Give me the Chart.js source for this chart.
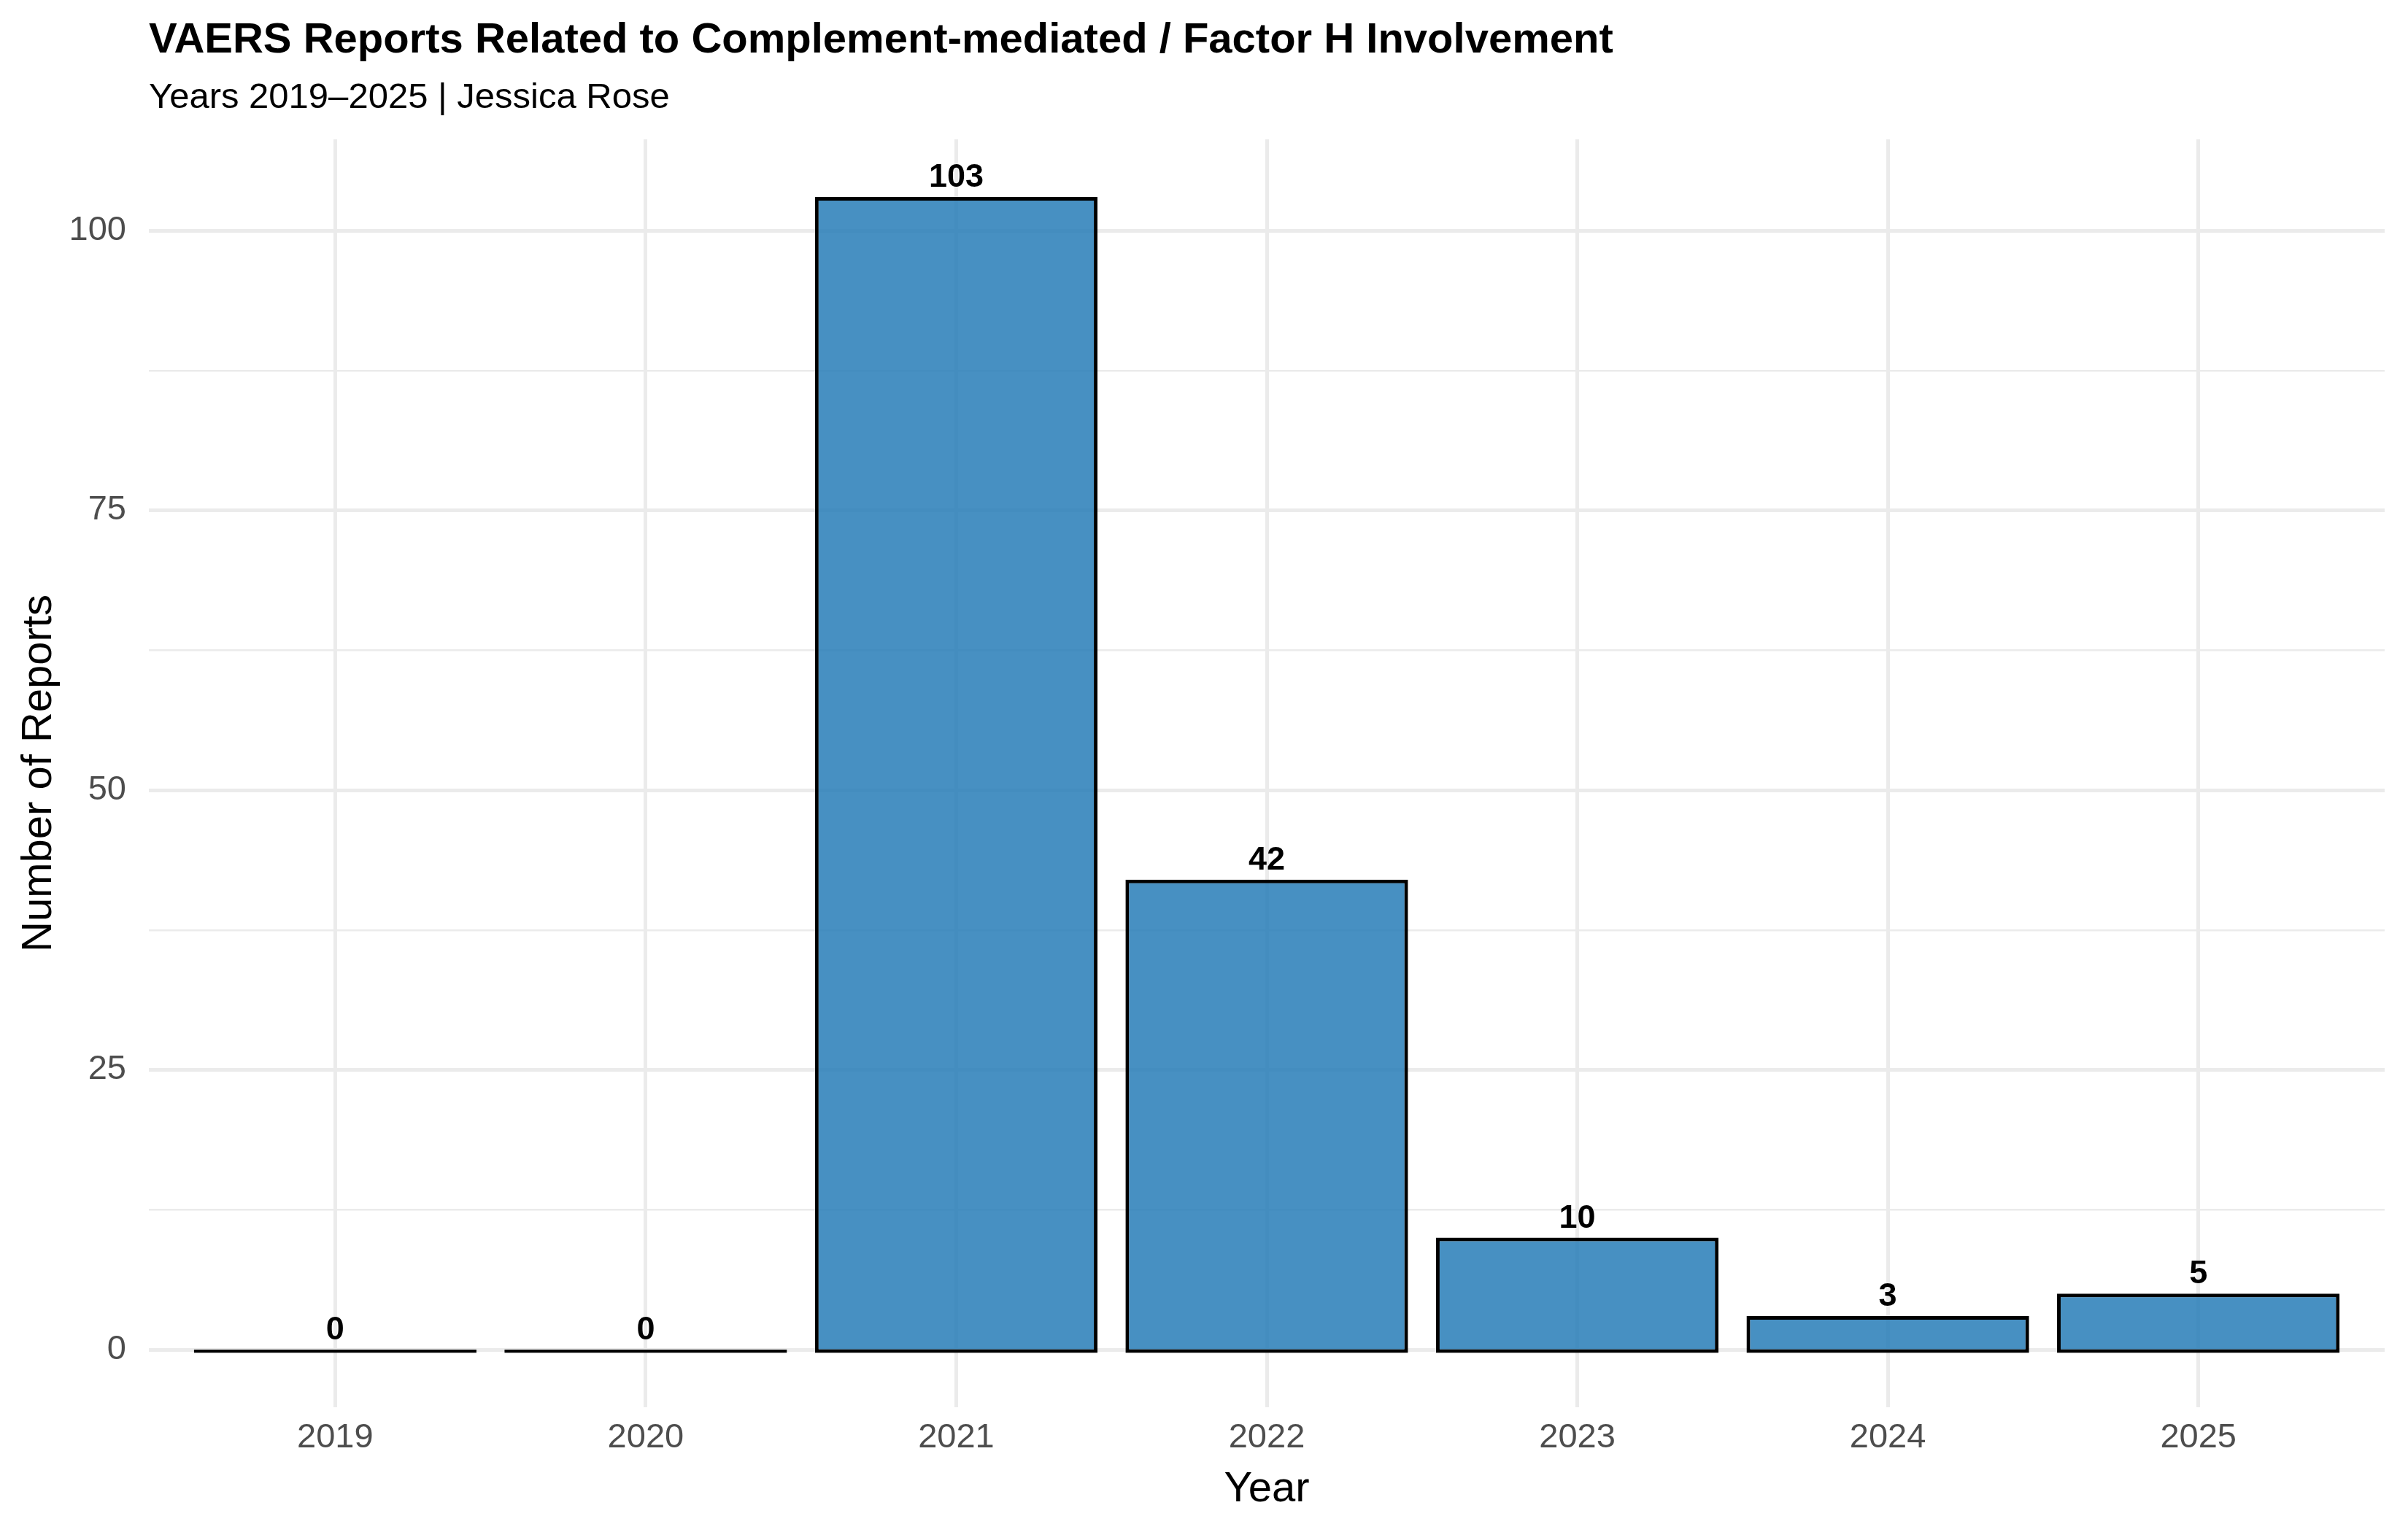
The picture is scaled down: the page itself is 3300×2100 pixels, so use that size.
<!DOCTYPE html>
<html>
<head>
<meta charset="utf-8">
<script src="https://cdn.jsdelivr.net/npm/chart.js@4/dist/chart.umd.min.js"></script>
<style>
  html, body { margin: 0; padding: 0; background: #ffffff; }
  #wrap { width: 3300px; height: 2100px; }
</style>
</head>
<body>
<div id="wrap"><canvas id="c" width="3300" height="2100"></canvas></div>
<script>
// ---- data ----
const years = ["2019", "2020", "2021", "2022", "2023", "2024", "2025"];
const reports = [0, 0, 103, 42, 10, 3, 5];
const yMajorTicks = [0, 25, 50, 75, 100];
const yMinorTicks = [12.5, 37.5, 62.5, 87.5];

const titleText = "VAERS Reports Related to Complement-mediated / Factor H Involvement";
const subtitleText = "Years 2019\u20132025 | Jessica Rose";
const xTitle = "Year";
const yTitle = "Number of Reports";

const FONT = "'Liberation Sans', Arial, Helvetica, sans-serif";
const GRID = "#EBEBEB";

const textPlugin = {
  id: 'textPlugin',
  beforeDraw(chart) {
    const ctx = chart.ctx;
    ctx.save();
    ctx.fillStyle = '#ffffff';
    ctx.fillRect(0, 0, chart.width, chart.height);
    ctx.restore();
  },
  afterDatasetsDraw(chart) {
    const ctx = chart.ctx;
    const meta = chart.getDatasetMeta(0);
    ctx.save();
    ctx.fillStyle = '#000000';
    ctx.font = "bold 45px " + FONT;
    ctx.textAlign = 'center';
    ctx.textBaseline = 'alphabetic';
    meta.data.forEach((bar, i) => {
      const yv = chart.scales.y.getPixelForValue(reports[i]);
      ctx.fillText(String(reports[i]), bar.x, yv - 14);
    });
    ctx.restore();
  },
  afterDraw(chart) {
    const ctx = chart.ctx;
    const area = chart.chartArea;
    ctx.save();
    ctx.fillStyle = '#000000';
    ctx.textBaseline = 'alphabetic';
    ctx.textAlign = 'left';
    ctx.font = "bold 58px " + FONT;
    ctx.fillText(titleText, area.left, 72);
    ctx.font = "49px " + FONT;
    ctx.fillText(subtitleText, area.left, 148);
    // x title
    ctx.textAlign = 'center';
    ctx.font = "58px " + FONT;
    ctx.fillText(xTitle, (area.left + area.right) / 2, 2058);
    // y title
    ctx.translate(70, (area.top + area.bottom) / 2);
    ctx.rotate(-Math.PI / 2);
    ctx.fillText(yTitle, 0, 0);
    ctx.restore();
  }
};

new Chart(document.getElementById('c'), {
  type: 'bar',
  data: {
    datasets: [{
      label: 'Reports',
      data: reports.map((v, i) => ({ x: i, y: v })),
      backgroundColor: 'rgba(31,119,180,0.82)',
      borderColor: '#000000',
      borderWidth: 5,
      borderSkipped: false,
      inflateAmount: 0,
      base: -0.3,
      barPercentage: 0.91,
      categoryPercentage: 1.0
    }]
  },
  options: {
    responsive: false,
    animation: false,
    devicePixelRatio: 1,
    layout: { padding: { left: 0, right: 32, top: 191, bottom: 0 } },
    plugins: {
      legend: { display: false },
      tooltip: { enabled: false },
      title: { display: false }
    },
    scales: {
      x: {
        type: 'linear',
        min: -0.6,
        max: 6.6,
        offset: false,
        afterBuildTicks(s) { s.ticks = years.map((y, i) => ({ value: i })); },
        afterFit(s) { s.height = 171; },
        grid: { color: GRID, lineWidth: 5, drawTicks: false, offset: false },
        border: { display: false },
        ticks: {
          color: '#4D4D4D',
          font: { family: FONT, size: 47 },
          padding: 14,
          maxRotation: 0,
          autoSkip: false,
          callback: (v) => years[v]
        }
      },
      y: {
        type: 'linear',
        min: -5.15,
        max: 108.15,
        afterBuildTicks(s) {
          s.ticks = yMajorTicks.concat(yMinorTicks).sort((a, b) => a - b).map(v => ({ value: v }));
        },
        afterFit(s) { s.width = 204; },
        grid: {
          color: GRID,
          drawTicks: false,
          lineWidth: (c) => (c.tick && yMajorTicks.includes(c.tick.value)) ? 5 : 2.5
        },
        border: { display: false },
        ticks: {
          color: '#4D4D4D',
          font: { family: FONT, size: 47 },
          padding: 31,
          autoSkip: false,
          callback: (v) => yMajorTicks.includes(v) ? String(v) : ''
        }
      }
    }
  },
  plugins: [textPlugin]
});
</script>
</body>
</html>
